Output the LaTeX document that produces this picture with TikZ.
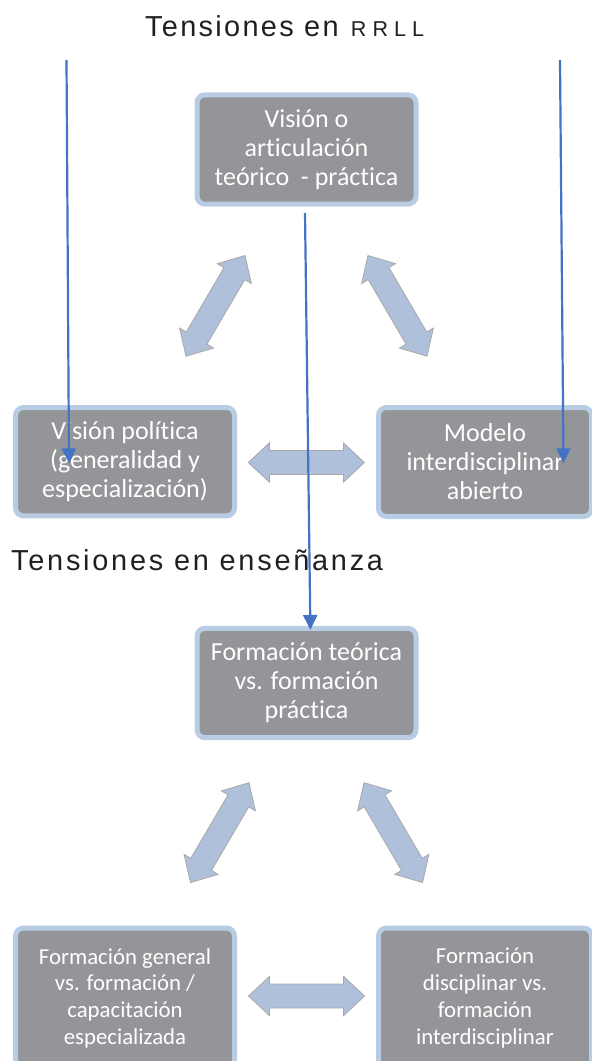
\documentclass[tikz,border=0pt]{standalone}
\usepackage{fontspec}
\setmainfont{Carlito}[Ligatures=NoCommon]
\newfontfamily\titlefontA{Liberation Sans}[LetterSpace=8]
\newfontfamily\titlefontB{Liberation Sans}[LetterSpace=9.5]
\newfontfamily\titlefontC{Liberation Sans}[LetterSpace=28]
\usetikzlibrary{calc,arrows.meta}
\definecolor{boxfill}{RGB}{147,149,152}
\definecolor{boxrim}{RGB}{184,204,228}
\definecolor{arrfill}{RGB}{175,192,219}
\definecolor{arrrim}{RGB}{168,168,168}
\definecolor{linkblue}{RGB}{68,114,196}
\definecolor{ttlcol}{RGB}{35,31,32}
\newcommand{\dblarrow}[2]{%
  \draw[dbl] (#1)
   -- ($(#1)!21pt!(#2)!19.7pt!90:(#2)$)
   -- ($(#1)!21pt!(#2)!12pt!90:(#2)$)
   -- ($(#2)!21pt!(#1)!12pt!-90:(#1)$)
   -- ($(#2)!21pt!(#1)!19.7pt!-90:(#1)$)
   -- (#2)
   -- ($(#2)!21pt!(#1)!19.7pt!90:(#1)$)
   -- ($(#2)!21pt!(#1)!12pt!90:(#1)$)
   -- ($(#1)!21pt!(#2)!12pt!-90:(#2)$)
   -- ($(#1)!21pt!(#2)!19.7pt!-90:(#2)$)
   -- cycle;}
\begin{document}
\begin{tikzpicture}[x=1pt,y=-1pt,
  tbox/.style={draw=boxrim, line width=5pt, fill=boxfill, rounded corners=8pt,
    text=white, align=center, inner sep=0pt, outer sep=0pt,
    font=\fontsize{26}{29}\selectfont},
  tboxs/.style={tbox, font=\fontsize{22.8}{26.7}\selectfont},
  dbl/.style={fill=arrfill, draw=arrrim, line width=0.8pt, line join=miter},
  link/.style={draw=linkblue, line width=2.2pt, -{Triangle[width=14pt,length=15pt]}},
  ttl/.style={inner sep=0pt, anchor=base west, text=ttlcol}]
\useasboundingbox (0,0) rectangle (592,1061);

% titles
\node[ttl, font=\fontsize{28.9}{30}\titlefontA] (t1) at (145,36.7)
  {Tensiones en\hspace{2pt} {\fontsize{21.5}{22}\titlefontC RRLL}};
\node[ttl, font=\fontsize{28.9}{30}\titlefontB] (t2) at (11,570.7)
  {Tensiones en enseñanza};

% upper triangle
\node[tbox, minimum width=219pt, minimum height=109.3pt] (v1) at (306.5,149.5)
  {Visión o\\articulación\\teórico\ \ - práctica};
\node[tbox, minimum width=219pt, minimum height=108.3pt] (v2) at (125,461.7)
  {Visión política\\(generalidad y\\especialización)};
\node[tbox, minimum width=213pt, minimum height=109pt] (v3) at (485,462)
  {Modelo\\interdisciplinar\\abierto};

% lower triangle
\node[tbox, minimum width=219pt, minimum height=109.3pt] (e1) at (306.5,683)
  {Formación teórica\\vs. formación\\práctica};
\node[tboxs, minimum width=219pt, minimum height=140pt] (e2) at (125,998)
  {Formación general\\vs. formación /\\capacitación\\especializada};
\node[tboxs, minimum width=213pt, minimum height=140pt] (e3) at (485,998)
  {Formación\\disciplinar vs.\\formación\\interdisciplinar};

% double arrows
\coordinate (a1) at (245,255.5);   \coordinate (a2) at (186,356.2);
\coordinate (a3) at (368,255.5);   \coordinate (a4) at (427,356.2);
\coordinate (a5) at (248.4,462.5); \coordinate (a6) at (364.4,462.5);
\coordinate (b1) at (249,782.7);   \coordinate (b2) at (190.5,882.5);
\coordinate (b3) at (364,782.7);   \coordinate (b4) at (422.5,882.5);
\coordinate (b5) at (248.5,996);   \coordinate (b6) at (364.5,996);
\dblarrow{a1}{a2}
\dblarrow{a3}{a4}
\dblarrow{a5}{a6}
\dblarrow{b1}{b2}
\dblarrow{b3}{b4}
\dblarrow{b5}{b6}

% blue links
\coordinate (p1) at (66.5,60);  \coordinate (q1) at (69,463.3);
\coordinate (p2) at (560,60);   \coordinate (q2) at (563.5,463.3);
\coordinate (p3) at (305,213);  \coordinate (q3) at (310.4,630);
\draw[link] (p1) -- (q1);
\draw[link] (p2) -- (q2);
\draw[link] (p3) -- (q3);
\end{tikzpicture}
\end{document}
